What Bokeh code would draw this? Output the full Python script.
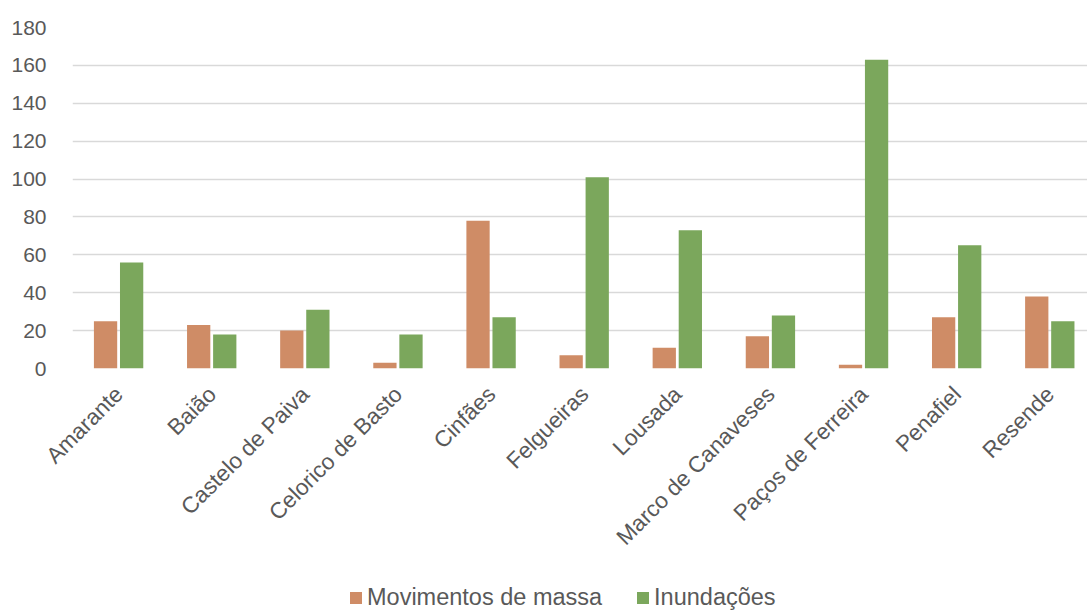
import math
from bokeh.plotting import figure
from bokeh.layouts import column
from bokeh.models import Range1d, FixedTicker, Legend, LegendItem, ColumnDataSource
from bokeh.embed import file_html
from bokeh.resources import INLINE

categories = ["Amarante", "Baião", "Castelo de Paiva", "Celorico de Basto", "Cinfães",
              "Felgueiras", "Lousada", "Marco de Canaveses", "Paços de Ferreira",
              "Penafiel", "Resende"]
movimentos = [25, 23, 20, 3, 78, 7, 11, 17, 2, 27, 38]
inundacoes = [56, 18, 31, 18, 27, 101, 73, 28, 163, 65, 25]
y_ticks = [0, 20, 40, 60, 80, 100, 120, 140, 160, 180]
series_names = ["Movimentos de massa", "Inundações"]

ORANGE = "#CF8C66"
GREEN = "#7BA75C"
TEXT = "#595959"
FONT = "Liberation Sans"

centers = [i + 0.5 for i in range(len(categories))]
src = ColumnDataSource(dict(
    xm=[c - 0.145 for c in centers],
    xi=[c + 0.135 for c in centers],
    m=movimentos, n=inundacoes))

p = figure(width=1087, height=578, output_backend="svg", toolbar_location=None,
           x_range=Range1d(0, 10.9), y_range=Range1d(0, 180),
           min_border_left=72, min_border_top=27, min_border_right=0,
           min_border_bottom=210)
p.outline_line_color = None

r1 = p.vbar(x="xm", top="m", width=0.25, source=src, color=ORANGE, line_color=None)
r2 = p.vbar(x="xi", top="n", width=0.25, source=src, color=GREEN, line_color=None)

p.xgrid.visible = False
p.ygrid.grid_line_color = "#D9D9D9"
p.ygrid.grid_line_width = 1.5
p.ygrid.ticker = FixedTicker(ticks=y_ticks)

p.yaxis.ticker = FixedTicker(ticks=y_ticks)
p.yaxis.axis_line_color = None
p.yaxis.major_tick_line_color = None
p.yaxis.minor_tick_line_color = None
p.yaxis.major_label_text_font = FONT
p.yaxis.major_label_text_font_size = "21px"
p.yaxis.major_label_text_color = TEXT
p.yaxis.major_label_standoff = 20

p.xaxis.ticker = FixedTicker(ticks=centers)
p.xaxis.major_label_overrides = {c: name for c, name in zip(centers, categories)}
p.xaxis.axis_line_color = None
p.xaxis.major_tick_line_color = None
p.xaxis.minor_tick_line_color = None
p.xaxis.major_label_orientation = math.pi / 4
p.xaxis.major_label_text_font = FONT
p.xaxis.major_label_text_font_size = "22.5px"
p.xaxis.major_label_text_color = TEXT
p.xaxis.major_label_standoff = 16

# Legend strip below the chart: same series drawn far off-range so only the legend shows
lg = figure(width=1087, height=33, output_backend="svg", toolbar_location=None,
            x_range=Range1d(-200, -100), y_range=Range1d(5000, 6000),
            min_border_left=0, min_border_right=0, min_border_top=0,
            min_border_bottom=0)
lg.axis.visible = False
lg.grid.visible = False
lg.outline_line_color = None
d1 = lg.vbar(x="xm", top="m", width=0.25, source=src, color=ORANGE, line_color=None)
d2 = lg.vbar(x="xi", top="n", width=0.25, source=src, color=GREEN, line_color=None)
legend = Legend(items=[LegendItem(label=series_names[0], renderers=[d1]),
                       LegendItem(label=series_names[1], renderers=[d2])],
                orientation="horizontal", location=(276, 0),
                label_text_font=FONT, label_text_font_size="23.5px",
                label_text_color=TEXT, glyph_width=15, glyph_height=15,
                label_standoff=4, spacing=33, border_line_color=None,
                background_fill_alpha=0, padding=0, margin=0)
lg.add_layout(legend, "center")

layout = column(p, lg, spacing=0)
open("out.html", "w").write(file_html(layout, INLINE))
